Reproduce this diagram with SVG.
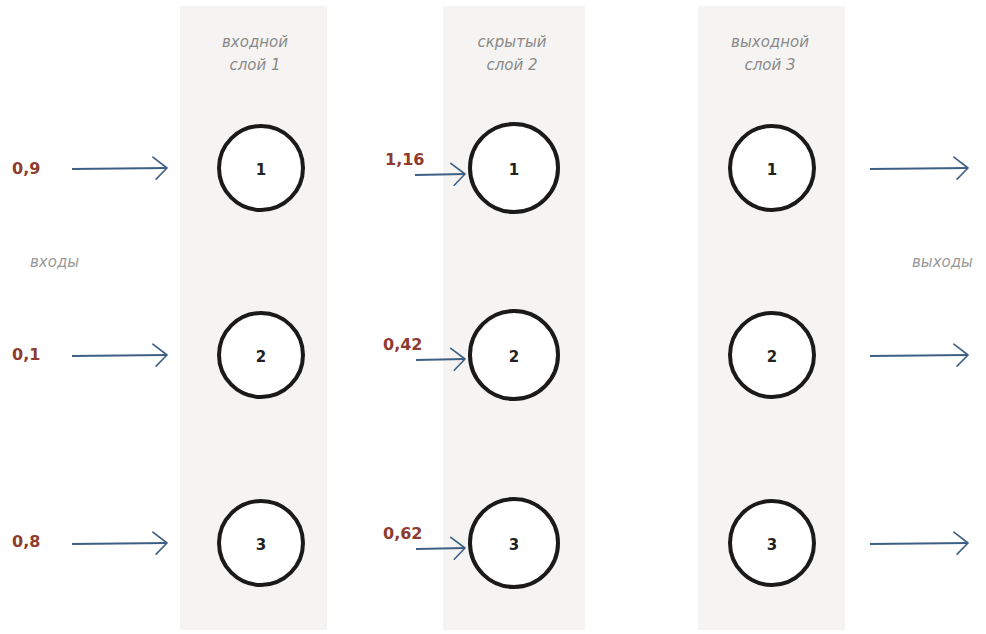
<svg xmlns="http://www.w3.org/2000/svg" width="986" height="634" viewBox="0 0 986 634">
<defs>
<marker id="ah" viewBox="0 0 16 24" refX="15" refY="12" markerWidth="16" markerHeight="24" markerUnits="userSpaceOnUse" orient="auto">
<path d="M1,1 L15,12 L4,23" fill="none" stroke="#3d5f84" stroke-width="1.6" stroke-linecap="round" stroke-linejoin="round"/>
</marker>
<style>
.band{fill:#f5f4f2}
.node{fill:#ffffff;stroke:#1a1a1a;stroke-width:4}
.num{font-family:"DejaVu Sans",sans-serif;font-size:15px;font-weight:bold;fill:#222;text-anchor:middle;dominant-baseline:central}
.hdr{font-family:"DejaVu Sans",sans-serif;font-style:italic;font-size:15px;fill:#8a8a8a;text-anchor:middle}
.side{font-family:"DejaVu Sans",sans-serif;font-style:italic;font-size:15px;fill:#999}
.val{font-family:"DejaVu Sans",sans-serif;font-size:16px;fill:#8e3b30;font-weight:bold}
.arr{fill:none;stroke:#3d5f84;stroke-width:1.8;marker-end:url(#ah)}
</style>
</defs>
<rect width="986" height="634" fill="#ffffff"/>
<rect class="band" x="180" y="6" width="147" height="624"/>
<rect class="band" x="443" y="6" width="142" height="624"/>
<rect class="band" x="698" y="6" width="147" height="624"/>

<text class="hdr" x="255" y="47">входной</text>
<text class="hdr" x="255" y="70">слой 1</text>
<text class="hdr" x="512" y="47">скрытый</text>
<text class="hdr" x="512" y="70">слой 2</text>
<text class="hdr" x="770" y="47">выходной</text>
<text class="hdr" x="770" y="70">слой 3</text>
<text class="side" x="30" y="267">входы</text>
<text class="side" x="912" y="267">выходы</text>

<text class="val" x="12" y="174">0,9</text>
<text class="val" x="12" y="360">0,1</text>
<text class="val" x="12" y="547">0,8</text>
<text class="val" x="385" y="165">1,16</text>
<text class="val" x="383" y="350">0,42</text>
<text class="val" x="383" y="539">0,62</text>

<g id="connectors">
<path class="arr" d="M72,169 L167,168"/>
<path class="arr" d="M72,356 L167,355"/>
<path class="arr" d="M72,544 L167,543"/>
<path class="arr" d="M415,175 L465,174"/>
<path class="arr" d="M416,360 L465,359"/>
<path class="arr" d="M416,549 L465,548"/>
<path class="arr" d="M870,169 L968,168"/>
<path class="arr" d="M870,356 L968,355"/>
<path class="arr" d="M870,544 L968,543"/>
</g>

<g id="in1"><circle class="node" cx="261" cy="168" r="42"/><text class="num" x="261" y="170">1</text></g>
<g id="in2"><circle class="node" cx="261" cy="355" r="42"/><text class="num" x="261" y="357">2</text></g>
<g id="in3"><circle class="node" cx="261" cy="543" r="42"/><text class="num" x="261" y="545">3</text></g>
<g id="hid1"><circle class="node" cx="514" cy="168" r="44"/><text class="num" x="514" y="170">1</text></g>
<g id="hid2"><circle class="node" cx="514" cy="355" r="44"/><text class="num" x="514" y="357">2</text></g>
<g id="hid3"><circle class="node" cx="514" cy="543" r="44"/><text class="num" x="514" y="545">3</text></g>
<g id="out1"><circle class="node" cx="772" cy="168" r="42"/><text class="num" x="772" y="170">1</text></g>
<g id="out2"><circle class="node" cx="772" cy="355" r="42"/><text class="num" x="772" y="357">2</text></g>
<g id="out3"><circle class="node" cx="772" cy="543" r="42"/><text class="num" x="772" y="545">3</text></g>
</svg>
